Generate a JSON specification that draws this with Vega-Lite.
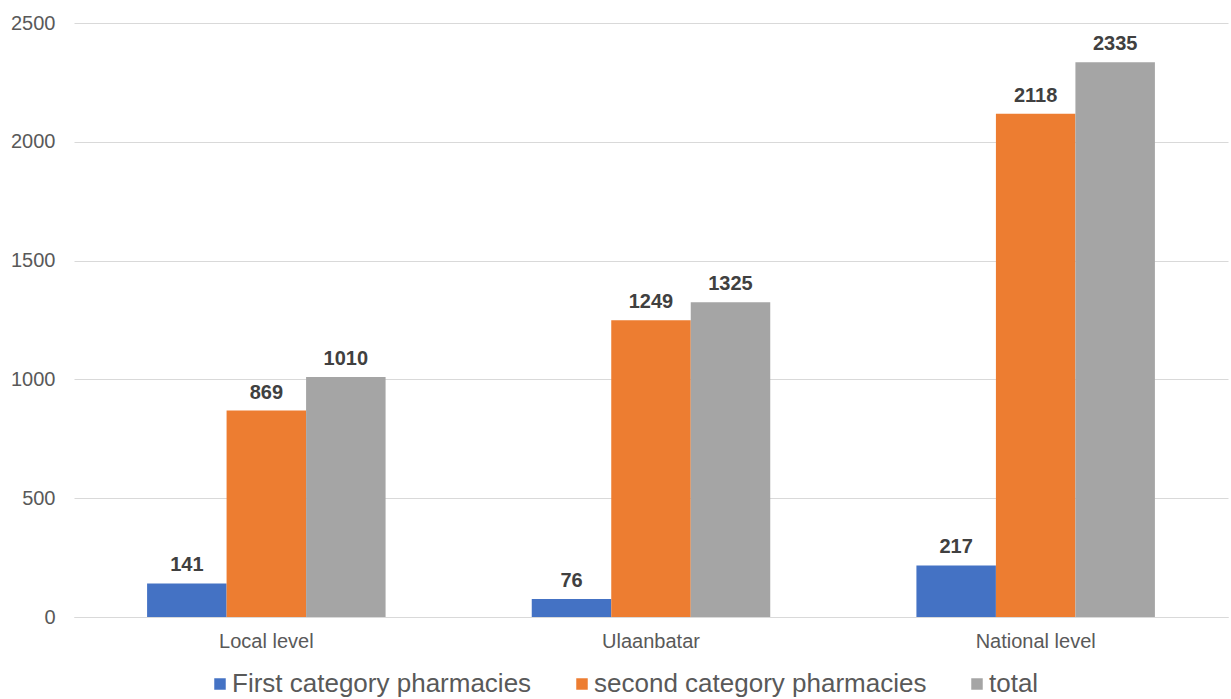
{
  "$schema": "https://vega.github.io/schema/vega-lite/v6.json",
  "width": 1154,
  "height": 594,
  "autosize": {"type": "none"},
  "padding": {"left": 74, "top": 23, "right": 3, "bottom": 82},
  "background": "white",
  "config": {
    "view": {"stroke": null},
    "font": "Liberation Sans"
  },
  "data": {
    "values": [
      {"level": "Local level", "series": "First category pharmacies", "count": 141},
      {"level": "Local level", "series": "second category pharmacies", "count": 869},
      {"level": "Local level", "series": "total", "count": 1010},
      {"level": "Ulaanbatar", "series": "First category pharmacies", "count": 76},
      {"level": "Ulaanbatar", "series": "second category pharmacies", "count": 1249},
      {"level": "Ulaanbatar", "series": "total", "count": 1325},
      {"level": "National level", "series": "First category pharmacies", "count": 217},
      {"level": "National level", "series": "second category pharmacies", "count": 2118},
      {"level": "National level", "series": "total", "count": 2335}
    ]
  },
  "encoding": {
    "x": {
      "field": "level",
      "type": "nominal",
      "sort": ["Local level", "Ulaanbatar", "National level"],
      "scale": {"paddingInner": 0.38, "paddingOuter": 0.19},
      "axis": {
        "title": null,
        "labelAngle": 0,
        "labelFontSize": 20,
        "labelColor": "#595959",
        "labelPadding": 14,
        "ticks": false,
        "tickSize": 0,
        "domain": true,
        "domainColor": "#d9d9d9",
        "domainWidth": 1
      }
    },
    "xOffset": {
      "field": "series",
      "type": "nominal",
      "sort": ["First category pharmacies", "second category pharmacies", "total"],
      "scale": {"paddingInner": 0, "paddingOuter": 0}
    },
    "y": {
      "field": "count",
      "type": "quantitative",
      "scale": {"domain": [0, 2500], "nice": false},
      "axis": {
        "title": null,
        "values": [0, 500, 1000, 1500, 2000, 2500],
        "format": "d",
        "labelFontSize": 20,
        "labelColor": "#595959",
        "labelPadding": 19,
        "ticks": false,
        "tickSize": 0,
        "domain": false,
        "grid": true,
        "gridColor": "#d9d9d9",
        "gridWidth": 1
      }
    }
  },
  "layer": [
    {
      "mark": {"type": "bar"},
      "encoding": {
        "color": {
          "field": "series",
          "type": "nominal",
          "sort": ["First category pharmacies", "second category pharmacies", "total"],
          "scale": {
            "domain": ["First category pharmacies", "second category pharmacies", "total"],
            "range": ["#4472C4", "#ED7D31", "#A5A5A5"]
          },
          "legend": {
            "title": null,
            "orient": "none",
            "direction": "horizontal",
            "legendX": 133,
            "legendY": 648,
            "padding": 0,
            "symbolType": "square",
            "symbolSize": 132,
            "symbolStrokeWidth": 0,
            "labelFontSize": 26,
            "labelColor": "#595959",
            "labelOffset": -1,
            "labelLimit": 500,
            "columnPadding": 37
          }
        }
      }
    },
    {
      "mark": {
        "type": "text",
        "dy": -12,
        "baseline": "alphabetic",
        "fontSize": 20,
        "fontWeight": "bold",
        "color": "#404040"
      },
      "encoding": {
        "text": {"field": "count", "type": "quantitative", "format": "d"}
      }
    }
  ]
}
